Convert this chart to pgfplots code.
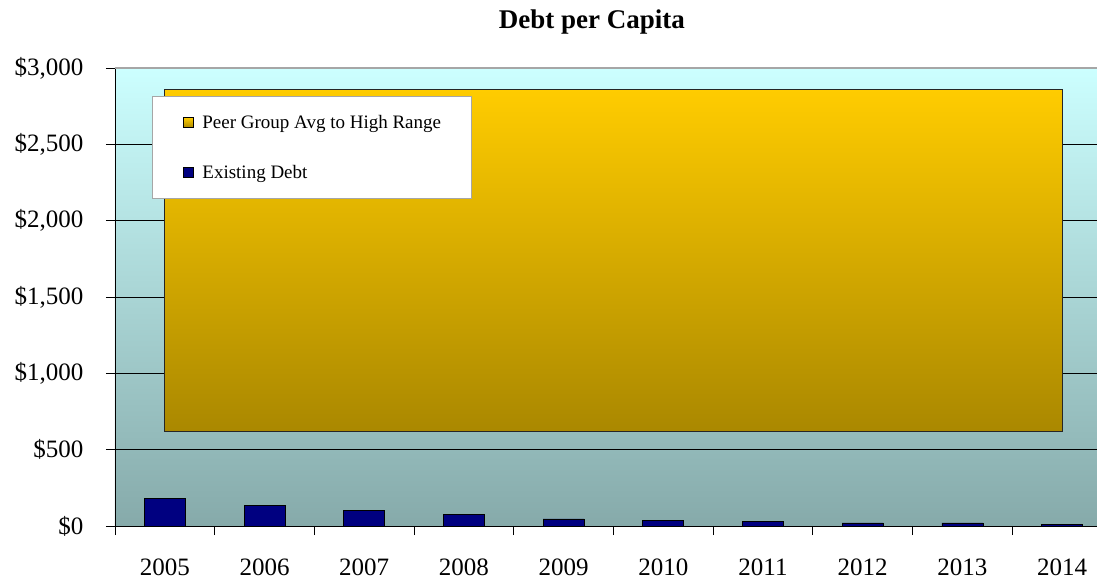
\documentclass[border=0pt]{standalone}
\usepackage{pgfplots}
\pgfplotsset{compat=1.18}
\usepackage{fontspec}
\setmainfont{Liberation Serif}
\definecolor{bgtop}{RGB}{204,255,255}
\definecolor{bgbot}{RGB}{134,170,170}
\definecolor{goldtop}{RGB}{255,204,0}
\definecolor{goldbot}{RGB}{170,136,0}
\definecolor{navy}{RGB}{0,0,128}
\begin{document}
\begin{tikzpicture}
\begin{axis}[
  scale only axis, width=982pt, height=458pt,
  xmin=-0.5, xmax=9.35, ymin=0, ymax=3000,
  axis x line*=bottom, axis y line*=left,
  axis line style={black, line width=0.8pt},
  axis background/.style={top color=bgtop, bottom color=bgbot},
  xtick={0,1,2,3,4,5,6,7,8,9},
  xticklabels={2005,2006,2007,2008,2009,2010,2011,2012,2013,2014},
  minor xtick={-0.5,0.5,1.5,2.5,3.5,4.5,5.5,6.5,7.5,8.5},
  ytick={0,500,1000,1500,2000,2500,3000},
  yticklabels={{\$0},{\$500},{\$1,000},{\$1,500},{\$2,000},{\$2,500},{\$3,000}},
  ymajorgrids, grid style={black, line width=0.8pt},
  tick align=outside, major tick length=9pt, minor tick length=9pt,
  major x tick style={draw=none},
  minor x tick style={black, line width=0.8pt},
  ytick style={black, line width=0.8pt},
  tick label style={font=\fontsize{25}{30}\selectfont},
  yticklabel style={xshift=-19pt},
  xticklabel style={yshift=-20pt},
  title={Debt per Capita},
  title style={at={(axis description cs:0.4857,1)}, anchor=base, yshift=33pt, font=\bfseries\fontsize{27}{32}\selectfont},
  legend cell align=left,
  legend style={at={(axis description cs:0.0377,0.9389)}, anchor=north west, draw=gray!70, line width=0.8pt, fill=white, inner xsep=28pt, inner ysep=17pt, row sep=31pt, font=\fontsize{19}{23}\selectfont},
]
\addplot[draw=black!85, line width=1.2pt, top color=goldtop, bottom color=goldbot,
  legend image code/.code={\pgfpathmoveto{\pgfqpoint{0pt}{0pt}}\pgfpathmoveto{\pgfqpoint{20pt}{0pt}}\pgfusepath{}%
    \draw[draw=black, line width=0.8pt, top color=goldtop, bottom color=goldbot] (3pt,-5pt) rectangle (13pt,5pt);}]
  coordinates {(0,620) (0,2860) (9,2860) (9,620)} -- cycle;
\addlegendentry{Peer Group Avg to High Range}
\addplot[ybar, bar width=41pt, fill=navy, draw=black, line width=0.8pt,
  legend image code/.code={\pgfpathmoveto{\pgfqpoint{0pt}{0pt}}\pgfpathmoveto{\pgfqpoint{20pt}{0pt}}\pgfusepath{}%
    \draw[draw=black, line width=0.8pt, fill=navy] (3pt,-5pt) rectangle (13pt,5pt);}]
  coordinates {(0,179) (1,133) (2,102) (3,74) (4,46) (5,39) (6,28) (7,20) (8,20) (9,10)};
\addlegendentry{Existing Debt}
\draw[gray!70, line width=1.2pt] (rel axis cs:0,1) -- (rel axis cs:1,1);
\coordinate (O) at (rel axis cs:0,0);
\end{axis}
\pgfresetboundingbox
\path[use as bounding box] (O) ++(-115pt,-55pt) rectangle ++(1097pt,581pt);
\end{tikzpicture}
\end{document}
